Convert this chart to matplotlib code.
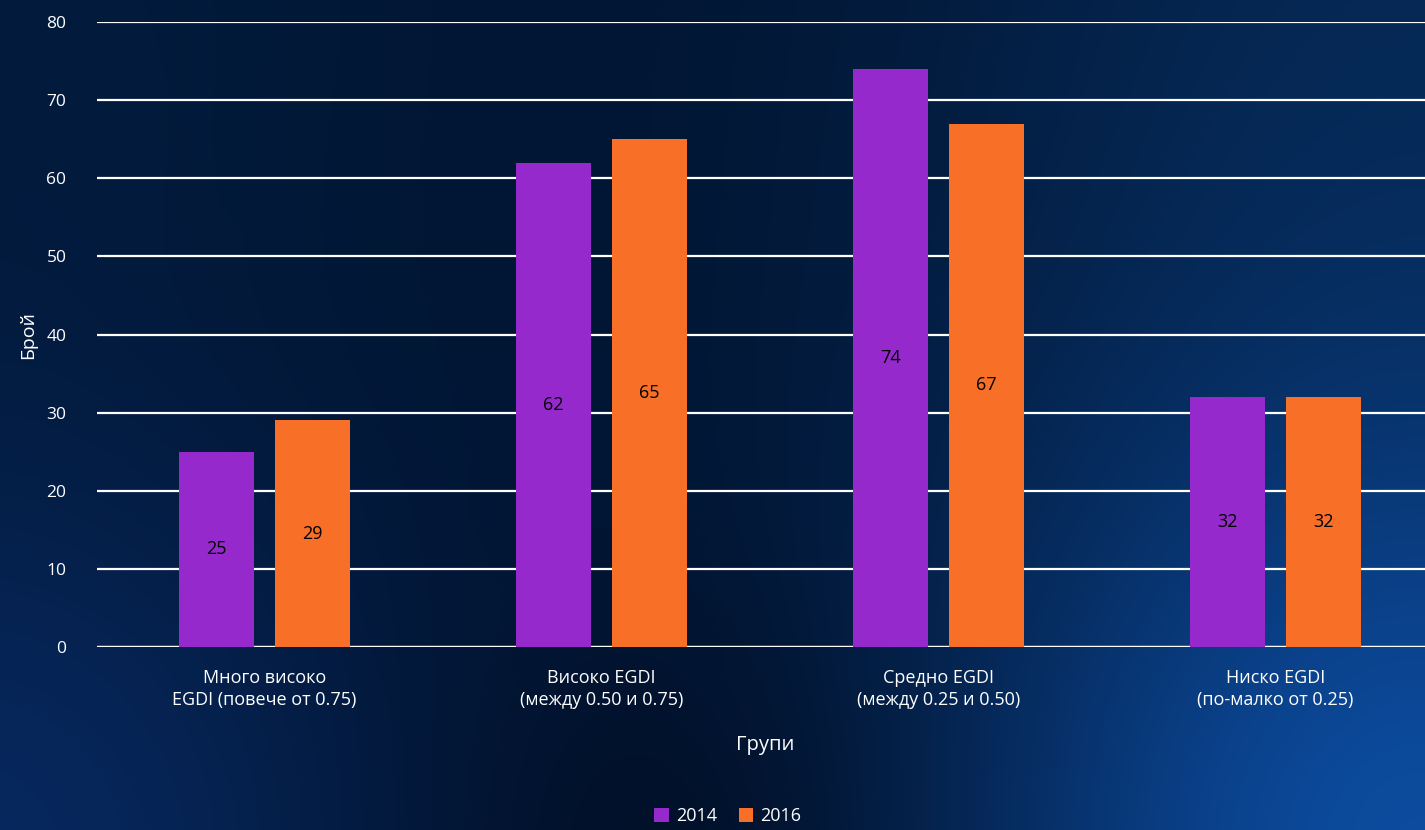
import matplotlib
matplotlib.use("Agg")
import matplotlib.pyplot as plt
import numpy as np

# Data
categories = ["Много високо\nEGDI (повече от 0.75)",
              "Високо EGDI\n(между 0.50 и 0.75)",
              "Средно EGDI\n(между 0.25 и 0.50)",
              "Ниско EGDI\n(по-малко от 0.25)"]
years = ["2014", "2016"]
values_2014 = [25, 62, 74, 32]
values_2016 = [29, 65, 67, 32]
y_ticks = [0, 10, 20, 30, 40, 50, 60, 70, 80]

PURPLE = "#9629cc"
ORANGE = "#f87028"
FONT = ["Open Sans", "DejaVu Sans"]

plt.rcParams["font.family"] = FONT


def hex_rgb(h):
    h = h.lstrip("#")
    return np.array([int(h[i:i + 2], 16) / 255 for i in (0, 2, 4)])


def draw_background(fig):
    """Dark navy backdrop, lighter blue towards the corners."""
    bg = fig.add_axes([0, 0, 1, 1], zorder=-10)
    h, w = 166, 285
    yy, xx = np.mgrid[0:h, 0:w]
    xx = xx / (w - 1) * 1.72   # aspect-corrected
    yy = yy / (h - 1)          # 0 top, 1 bottom
    base = hex_rgb("#011430")
    img = np.ones((h, w, 3)) * base
    # (x, y, radius, colour)
    blobs = [(1.72, 1.05, 0.42, "#0c4a9c"),
             (-0.05, 1.05, 0.38, "#07285e"),
             (1.72, 0.0, 0.45, "#052650"),
             (0.0, -0.05, 0.35, "#021b3c"),
             (0.86, 1.05, 0.25, "#000a1c")]
    for bx, by, r, c in blobs:
        wgt = np.exp(-((xx - bx) ** 2 + (yy - by) ** 2) / (2 * r ** 2))
        img += wgt[..., None] * (hex_rgb(c) - base)
    img = np.clip(img, 0, 1)
    bg.imshow(img, aspect="auto", extent=[0, 1, 0, 1], origin="upper",
              interpolation="bilinear")
    bg.set_axis_off()


def main():
    fig = plt.figure(figsize=(14.25, 8.3), dpi=100)
    draw_background(fig)

    W, H = 1425, 830
    left, right = 97, 1425
    top, bottom = 22, 647
    ax = fig.add_axes([left / W, 1 - bottom / H, (right - left) / W, (bottom - top) / H])
    ax.patch.set_alpha(0)

    x = np.arange(len(categories))
    width = 0.2226
    off = 0.1424
    b1 = ax.bar(x - off, values_2014, width, color=PURPLE, label=years[0], zorder=3)
    b2 = ax.bar(x + off, values_2016, width, color=ORANGE, label=years[1], zorder=3)

    for bars, vals in ((b1, values_2014), (b2, values_2016)):
        for rect, v in zip(bars, vals):
            ax.text(rect.get_x() + rect.get_width() / 2, v / 2, str(v),
                    ha="center", va="center", fontsize=13, color="black", zorder=4)

    ax.set_xlim(-0.497, 3.444)
    ax.set_ylim(0, 80)
    ax.set_yticks(y_ticks)
    ax.yaxis.grid(True, color="white", linewidth=1.6, zorder=1)
    ax.set_axisbelow(True)
    ax.axhline(0, color="white", linewidth=1.6, zorder=2)
    for s in ax.spines.values():
        s.set_visible(False)
    ax.tick_params(axis="both", length=0, colors="white", labelsize=12.5)
    ax.tick_params(axis="y", pad=22)
    ax.tick_params(axis="x", pad=16)
    ax.set_xticks(x)
    ax.set_xticklabels(categories, fontsize=13, linespacing=1.3)

    fig.text(28 / W, 1 - 335 / H, "Брой", rotation=90, color="white",
             fontsize=14, ha="center", va="center")
    fig.text(765 / W, 1 - 745 / H, "Групи", color="white",
             fontsize=14.5, ha="center", va="center")

    leg = fig.legend(loc="center", bbox_to_anchor=(728 / W, 1 - 816 / H), ncol=2,
                     frameon=False, fontsize=13, handlelength=0.8, handleheight=0.8,
                     handletextpad=0.4, columnspacing=1.2)
    for t in leg.get_texts():
        t.set_color("white")

    fig.savefig("out.png", dpi=100)


if __name__ == "__main__":
    main()
